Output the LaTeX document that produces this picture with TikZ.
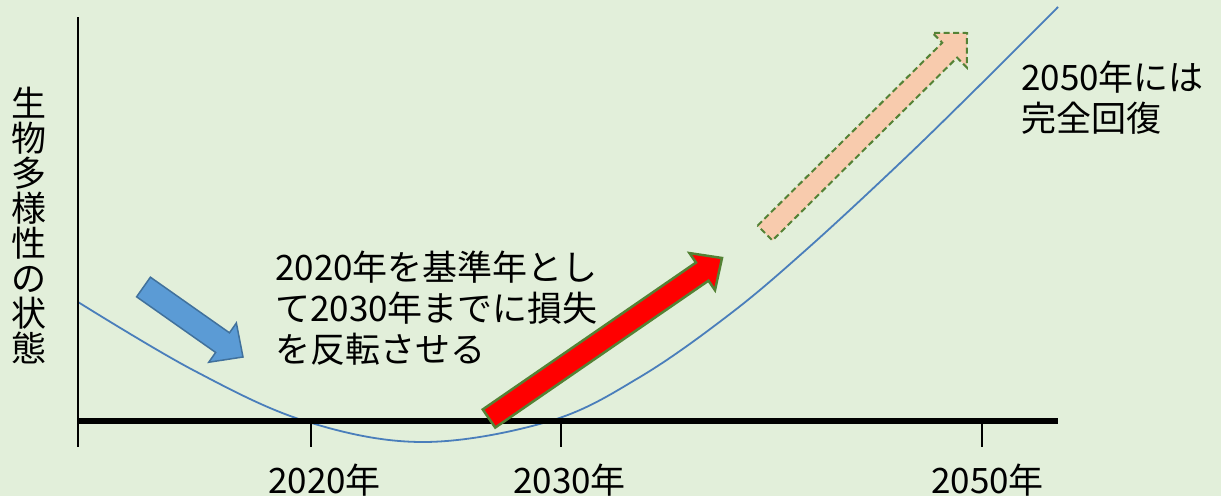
\documentclass[tikz,border=0pt]{standalone}
\usepackage{fontspec}
\newfontfamily\jp{Noto Sans CJK JP}
\usetikzlibrary{calc}
\definecolor{bg}{RGB}{226,239,218}
\definecolor{curveblue}{RGB}{74,126,187}
\definecolor{arrblue}{RGB}{91,155,213}
\definecolor{arrblueedge}{RGB}{65,113,156}
\definecolor{arrgreen}{RGB}{84,130,53}
\definecolor{pinkfill}{RGB}{248,203,173}
% #1 style, #2 tail centre, #3 tip, #4 shaft half width, #5 head half width, #6 head length
\newcommand\blockarrow[6]{%
  \path ($(#3)!#6!(#2)$) coordinate (hb);
  \draw[#1] ($(#2)!#4!90:(#3)$) -- ($(hb)!#4!90:(#3)$) -- ($(hb)!#5!90:(#3)$) -- (#3)
    -- ($(hb)!#5!-90:(#3)$) -- ($(hb)!#4!-90:(#3)$) -- ($(#2)!#4!-90:(#3)$) -- cycle;}
\tikzset{
  txt/.style={font=\jp\fontsize{35}{41}\selectfont, inner sep=0pt, text=black},
  axisline/.style={draw=black, line width=2pt},
  baseaxis/.style={draw=black, line width=6pt},
  tickline/.style={draw=black, line width=2pt},
  curveline/.style={draw=curveblue, line width=1.8pt},
  bluearrow/.style={fill=arrblue, draw=arrblueedge, line width=1.5pt, line join=miter},
  redarrow/.style={fill=red, draw=arrgreen, line width=2.5pt, line join=miter},
  pinkarrow/.style={fill=pinkfill, draw=arrgreen, line width=2pt, dash pattern=on 6pt off 3.5pt, line join=miter},
}
\begin{document}
\begin{tikzpicture}[x=1pt,y=-1pt]
\fill[bg] (0,0) rectangle (1221,496);
\useasboundingbox (0,0) rectangle (1221,496);

% curve
\draw[curveline] plot[smooth, tension=0.6] coordinates {(78,302) (193,370) (305,421) (423,442) (550,421) (640,377) (730,314) (807,249) (900,163) (980,85) (1058,7)};

% axes
\coordinate (ytop) at (78,17);
\coordinate (ybot) at (78,447);
\coordinate (xl) at (78,421);
\coordinate (xr) at (1058,421);
\draw[axisline] (ytop) -- (ybot);
\draw[baseaxis] (xl) -- (xr);
\foreach \x/\n in {311/a,561/b,982/c}{
  \coordinate (t\n1) at (\x,421);
  \coordinate (t\n2) at (\x,447);
  \draw[tickline] (t\n1) -- (t\n2);
}

% arrows
\coordinate (btail) at (143.5,287);
\coordinate (btip) at (243,357);
\blockarrow{bluearrow}{btail}{btip}{12pt}{24pt}{25pt}
\coordinate (rtail) at (489,418.5);
\coordinate (rtip) at (722,258);
\blockarrow{redarrow}{rtail}{rtip}{11pt}{22.5pt}{24pt}
\coordinate (ptail) at (765,233);
\coordinate (ptip) at (967,33);
\blockarrow{pinkarrow}{ptail}{ptip}{10.5pt}{24.4pt}{24.4pt}

% texts
\node[txt, align=center, font=\jp\fontsize{35}{35}\selectfont] (ylab) at (29,226) {生\\物\\多\\様\\性\\の\\状\\態};
\node[txt, anchor=base west] (l2020) at (268,493) {2020年};
\node[txt, anchor=base west] (l2030) at (513,493) {2030年};
\node[txt, anchor=base west] (l2050) at (931,493) {2050年};
\node[txt, anchor=base west, align=left] (mid) at (275,362) {2020年を基準年とし\\て2030年までに損失\\を反転させる};
\node[txt, anchor=base west, align=left] (goal) at (1021,131) {2050年には\\完全回復};
\end{tikzpicture}
\end{document}
